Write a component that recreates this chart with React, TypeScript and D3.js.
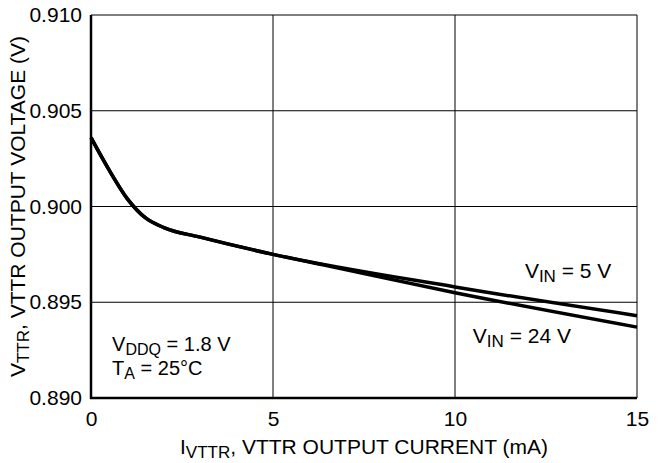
import React, { useEffect } from 'react';
import { scaleLinear, line, curveMonotoneX, axisBottom, axisLeft, select } from 'd3';

const current5 = [0, 0.5, 1, 1.5, 2, 3, 5, 10, 15];
const vin5 = [0.9036, 0.9019, 0.9004, 0.8994, 0.8989, 0.8984, 0.8975, 0.8958, 0.8943];
const current24 = [0, 0.5, 1, 1.5, 2, 3, 5, 6.5, 10, 15];
const vin24 = [0.9036, 0.9019, 0.9004, 0.8994, 0.8989, 0.8984, 0.8975, 0.8969, 0.8955, 0.8937];
const xTicks = [0, 5, 10, 15];
const yTicks = [0.89, 0.895, 0.9, 0.905, 0.91];

const W = 666;
const H = 463;
const m = { left: 91, right: 29, top: 15, bottom: 65 };
const font = '"Liberation Sans", Arial, sans-serif';
const fs = 21;
const sub = 17;

export default function App() {
  const xRef = React.useRef<SVGGElement>(null);
  const yRef = React.useRef<SVGGElement>(null);

  const x = scaleLinear().domain([0, 15]).range([m.left, W - m.right]);
  const y = scaleLinear().domain([0.89, 0.91]).range([H - m.bottom, m.top]);

  useEffect(() => {
    document.body.style.margin = '0';
    select(xRef.current)
      .call(axisBottom(x).tickValues(xTicks).tickSize(0).tickPadding(13).tickFormat((d) => String(d)))
      .call((g) => g.select('.domain').remove())
      .call((g) => g.selectAll('text').attr('font-size', fs).attr('font-family', font).attr('fill', '#000'));
    select(yRef.current)
      .call(axisLeft(y).tickValues(yTicks).tickSize(0).tickPadding(9).tickFormat((d) => (+d).toFixed(3)))
      .call((g) => g.select('.domain').remove())
      .call((g) => g.selectAll('text').attr('font-size', fs).attr('font-family', font).attr('fill', '#000'));
  }, []);

  const path = (xs: number[], ys: number[]) =>
    line<number>()
      .x((_, i) => x(xs[i]))
      .y((d) => y(d))
      .curve(curveMonotoneX)(ys) || '';

  const x0 = x(0), x1 = x(15), y0 = y(0.89), y1 = y(0.91);

  return (
    <svg width={W} height={H} style={{ display: 'block', background: '#fff' }} fontFamily={font}>
      {/* grid */}
      {xTicks.map((t) => (
        <line key={'gx' + t} x1={x(t)} x2={x(t)} y1={y1} y2={y0} stroke="#000" strokeWidth={1} />
      ))}
      {yTicks.map((t) => (
        <line key={'gy' + t} x1={x0} x2={x1} y1={y(t)} y2={y(t)} stroke="#000" strokeWidth={1} />
      ))}
      {/* heavy left and bottom axes */}
      <line x1={x0} x2={x0} y1={y1} y2={y0 + 1} stroke="#000" strokeWidth={2.5} />
      <line x1={x0 - 1} x2={x1} y1={y0} y2={y0} stroke="#000" strokeWidth={2.5} />

      <path d={path(current5, vin5)} fill="none" stroke="#000" strokeWidth={3.5} />
      <path d={path(current24, vin24)} fill="none" stroke="#000" strokeWidth={3.5} />

      <g ref={xRef} transform={`translate(0,${y0})`} />
      <g ref={yRef} transform={`translate(${x0},0)`} />

      <text x={x(11.92)} y={y(0.89627)} fontSize={fs}>
        V<tspan fontSize={sub} dy={4}>IN</tspan><tspan dy={-4}> = 5 V</tspan>
      </text>
      <text x={x(10.49)} y={y(0.89287)} fontSize={fs}>
        V<tspan fontSize={sub} dy={4}>IN</tspan><tspan dy={-4}> = 24 V</tspan>
      </text>
      <text x={x(0.58)} y={y(0.89245)} fontSize={20}>
        V<tspan fontSize={16} dy={4}>DDQ</tspan><tspan dy={-4}> = 1.8 V</tspan>
      </text>
      <text x={x(0.58)} y={y(0.8912)} fontSize={20}>
        T<tspan fontSize={16} dy={4}>A</tspan><tspan dy={-4}> = 25°C</tspan>
      </text>

      <text x={(x0 + x1) / 2} y={454} fontSize={fs} textAnchor="middle">
        I<tspan fontSize={sub} dy={4}>VTTR</tspan><tspan dy={-4}>, VTTR OUTPUT CURRENT (mA)</tspan>
      </text>
      <text transform={`translate(25,${(y0 + y1) / 2}) rotate(-90)`} fontSize={fs} textAnchor="middle">
        V<tspan fontSize={sub} dy={4}>TTR</tspan><tspan dy={-4}>, VTTR OUTPUT VOLTAGE (V)</tspan>
      </text>
    </svg>
  );
}
